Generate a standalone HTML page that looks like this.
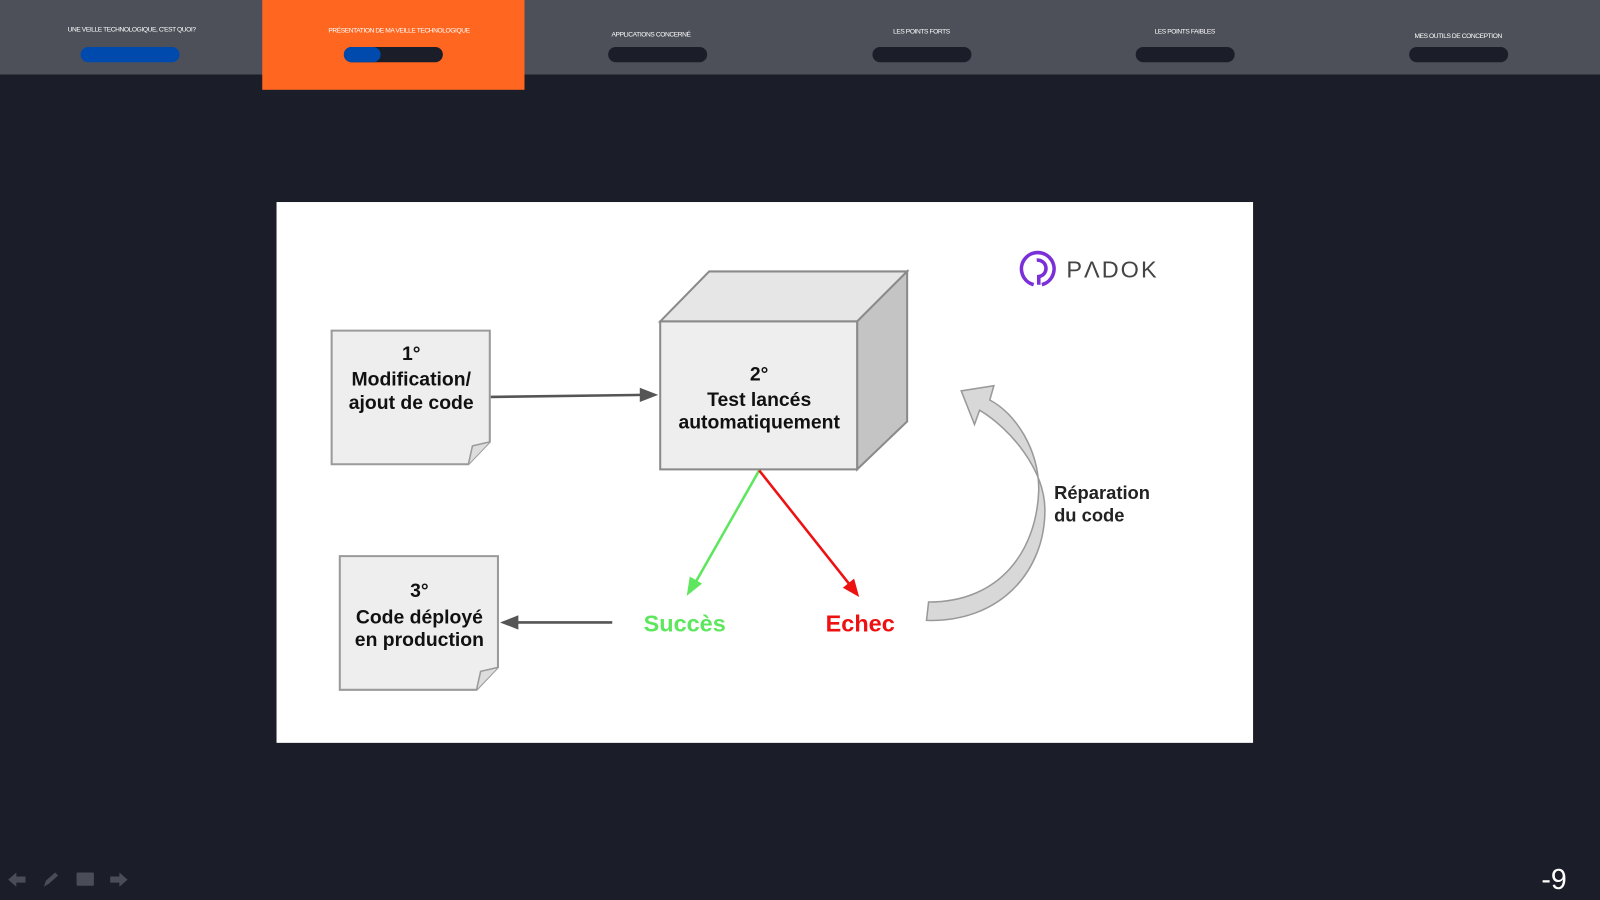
<!DOCTYPE html>
<html><head><meta charset="utf-8"><style>
html,body{margin:0;padding:0;background:#1b1d28;width:1600px;height:900px;overflow:hidden}
svg{display:block}
text{font-family:"Liberation Sans",sans-serif}
</style></head><body>
<svg width="1600" height="900" viewBox="0 0 1568 882" xmlns="http://www.w3.org/2000/svg">
<rect width="1568" height="882" fill="#1b1d28"/>
<rect width="1568" height="73" fill="#4d5059"/>
<rect x="257" y="0" width="257" height="88" fill="#ff6620"/>
<g font-size="6.5" fill="#fff" text-anchor="middle" letter-spacing="-0.4">
<text x="129" y="31">UNE VEILLE TECHNOLOGIQUE, C'EST QUOI?</text>
<text x="391" y="32">PRÉSENTATION DE MA VEILLE TECHNOLOGIQUE</text>
<text x="638" y="36">APPLICATIONS CONCERNÉ</text>
<text x="903" y="33">LES POINTS FORTS</text>
<text x="1161" y="33">LES POINTS FAIBLES</text>
<text x="1429" y="37">MES OUTILS DE CONCEPTION</text>
</g>
<rect x="79" y="46" width="97" height="15" rx="7.5" fill="#004aad"/>
<rect x="337" y="46" width="97" height="15" rx="7.5" fill="#1b1d28"/>
<rect x="337" y="46" width="36" height="15" rx="7.5" fill="#004aad"/>
<rect x="596" y="46" width="97" height="15" rx="7.5" fill="#1b1d28"/>
<rect x="855" y="46" width="97" height="15" rx="7.5" fill="#1b1d28"/>
<rect x="1113" y="46" width="97" height="15" rx="7.5" fill="#1b1d28"/>
<rect x="1381" y="46" width="97" height="15" rx="7.5" fill="#1b1d28"/>

<rect x="271" y="198" width="957" height="530" fill="#fff"/>

<path d="M325 324 H480 V433 L459 455 H325 Z" fill="#eeeeee" stroke="#9a9a9a" stroke-width="2"/>
<path d="M459 455 L463 437 L480 433" fill="#ddd" stroke="#9a9a9a" stroke-width="1.5"/>
<g font-weight="bold" fill="#111" text-anchor="middle" font-size="19">
<text x="403" y="353">1°</text>
<text x="403" y="378">Modification/</text>
<text x="403" y="401">ajout de code</text>
</g>
<path d="M333 545 H488 V654 L467 676 H333 Z" fill="#eeeeee" stroke="#9a9a9a" stroke-width="2"/>
<path d="M467 676 L471 658 L488 654" fill="#ddd" stroke="#9a9a9a" stroke-width="1.5"/>
<g font-weight="bold" fill="#111" text-anchor="middle" font-size="19">
<text x="411" y="585">3°</text>
<text x="411" y="611">Code déployé</text>
<text x="411" y="633">en production</text>
</g>
<path d="M647 315 L695 266 H889 L840 315 Z" fill="#e6e6e6" stroke="#8a8a8a" stroke-width="2"/>
<path d="M840 315 L889 266 V413 L840 460 Z" fill="#c4c4c4" stroke="#8a8a8a" stroke-width="2"/>
<rect x="647" y="315" width="193" height="145" fill="#eeeeee" stroke="#8a8a8a" stroke-width="2"/>
<g font-weight="bold" fill="#111" text-anchor="middle" font-size="19">
<text x="744" y="373">2°</text>
<text x="744" y="398">Test lancés</text>
<text x="744" y="420">automatiquement</text>
</g>
<line x1="481" y1="389" x2="630" y2="387" stroke="#555" stroke-width="2.5"/>
<path d="M645 387 L627 380 L627 394 Z" fill="#555"/>
<line x1="744" y1="461" x2="682" y2="570" stroke="#5ee65e" stroke-width="2.5"/>
<path d="M673 584 L676 565 L688 572 Z" fill="#5ee65e"/>
<line x1="744" y1="461" x2="832" y2="572" stroke="#ee1111" stroke-width="2.5"/>
<path d="M842 585 L826 576 L837 567 Z" fill="#ee1111"/>
<line x1="600" y1="610" x2="505" y2="610" stroke="#555" stroke-width="2.5"/>
<path d="M490 610 L508 603 L508 617 Z" fill="#555"/>
<text x="671" y="619" text-anchor="middle" font-weight="bold" font-size="23" fill="#5ee65e">Succès</text>
<text x="843" y="619" text-anchor="middle" font-weight="bold" font-size="23" fill="#ee1111">Echec</text>
<path d="M910 590 C980 590 1016 540 1018 480 C1018 440 995 405 970 392 L974 378 L942 383 L955 416 L960 402 C990 420 1024 460 1024 500 C1024 560 980 610 908 608 Z" fill="#d8d8d8" stroke="#999" stroke-width="1.5"/>
<g font-weight="bold" fill="#222" font-size="18">
<text x="1033" y="489">Réparation</text>
<text x="1033" y="511">du code</text>
</g>
<path d="M1013 279 A16 16 0 1 1 1021 279" fill="none" stroke="#7a2fd8" stroke-width="3.5"/>
<path d="M1016 255 A8 8 0 0 1 1018 271 L1018 279" fill="none" stroke="#7a2fd8" stroke-width="3.5"/>
<text x="1045" y="272" font-size="23" fill="#444" letter-spacing="2">PΛDOK</text>

<g fill="#4a4d57">
<path d="M8 862 L16 855 V859 H25 V865 H16 V869 Z"/>
<path d="M43 869 L45 863 L54 855 L57 858 L48 866 Z"/>
<rect x="75" y="855" width="17" height="13" rx="1"/>
<path d="M125 862 L117 855 V859 H108 V865 H117 V869 Z"/>
</g>
<text x="1523" y="871" text-anchor="middle" font-size="28" fill="#fff" font-weight="200">-9</text>
</svg>
</body></html>
